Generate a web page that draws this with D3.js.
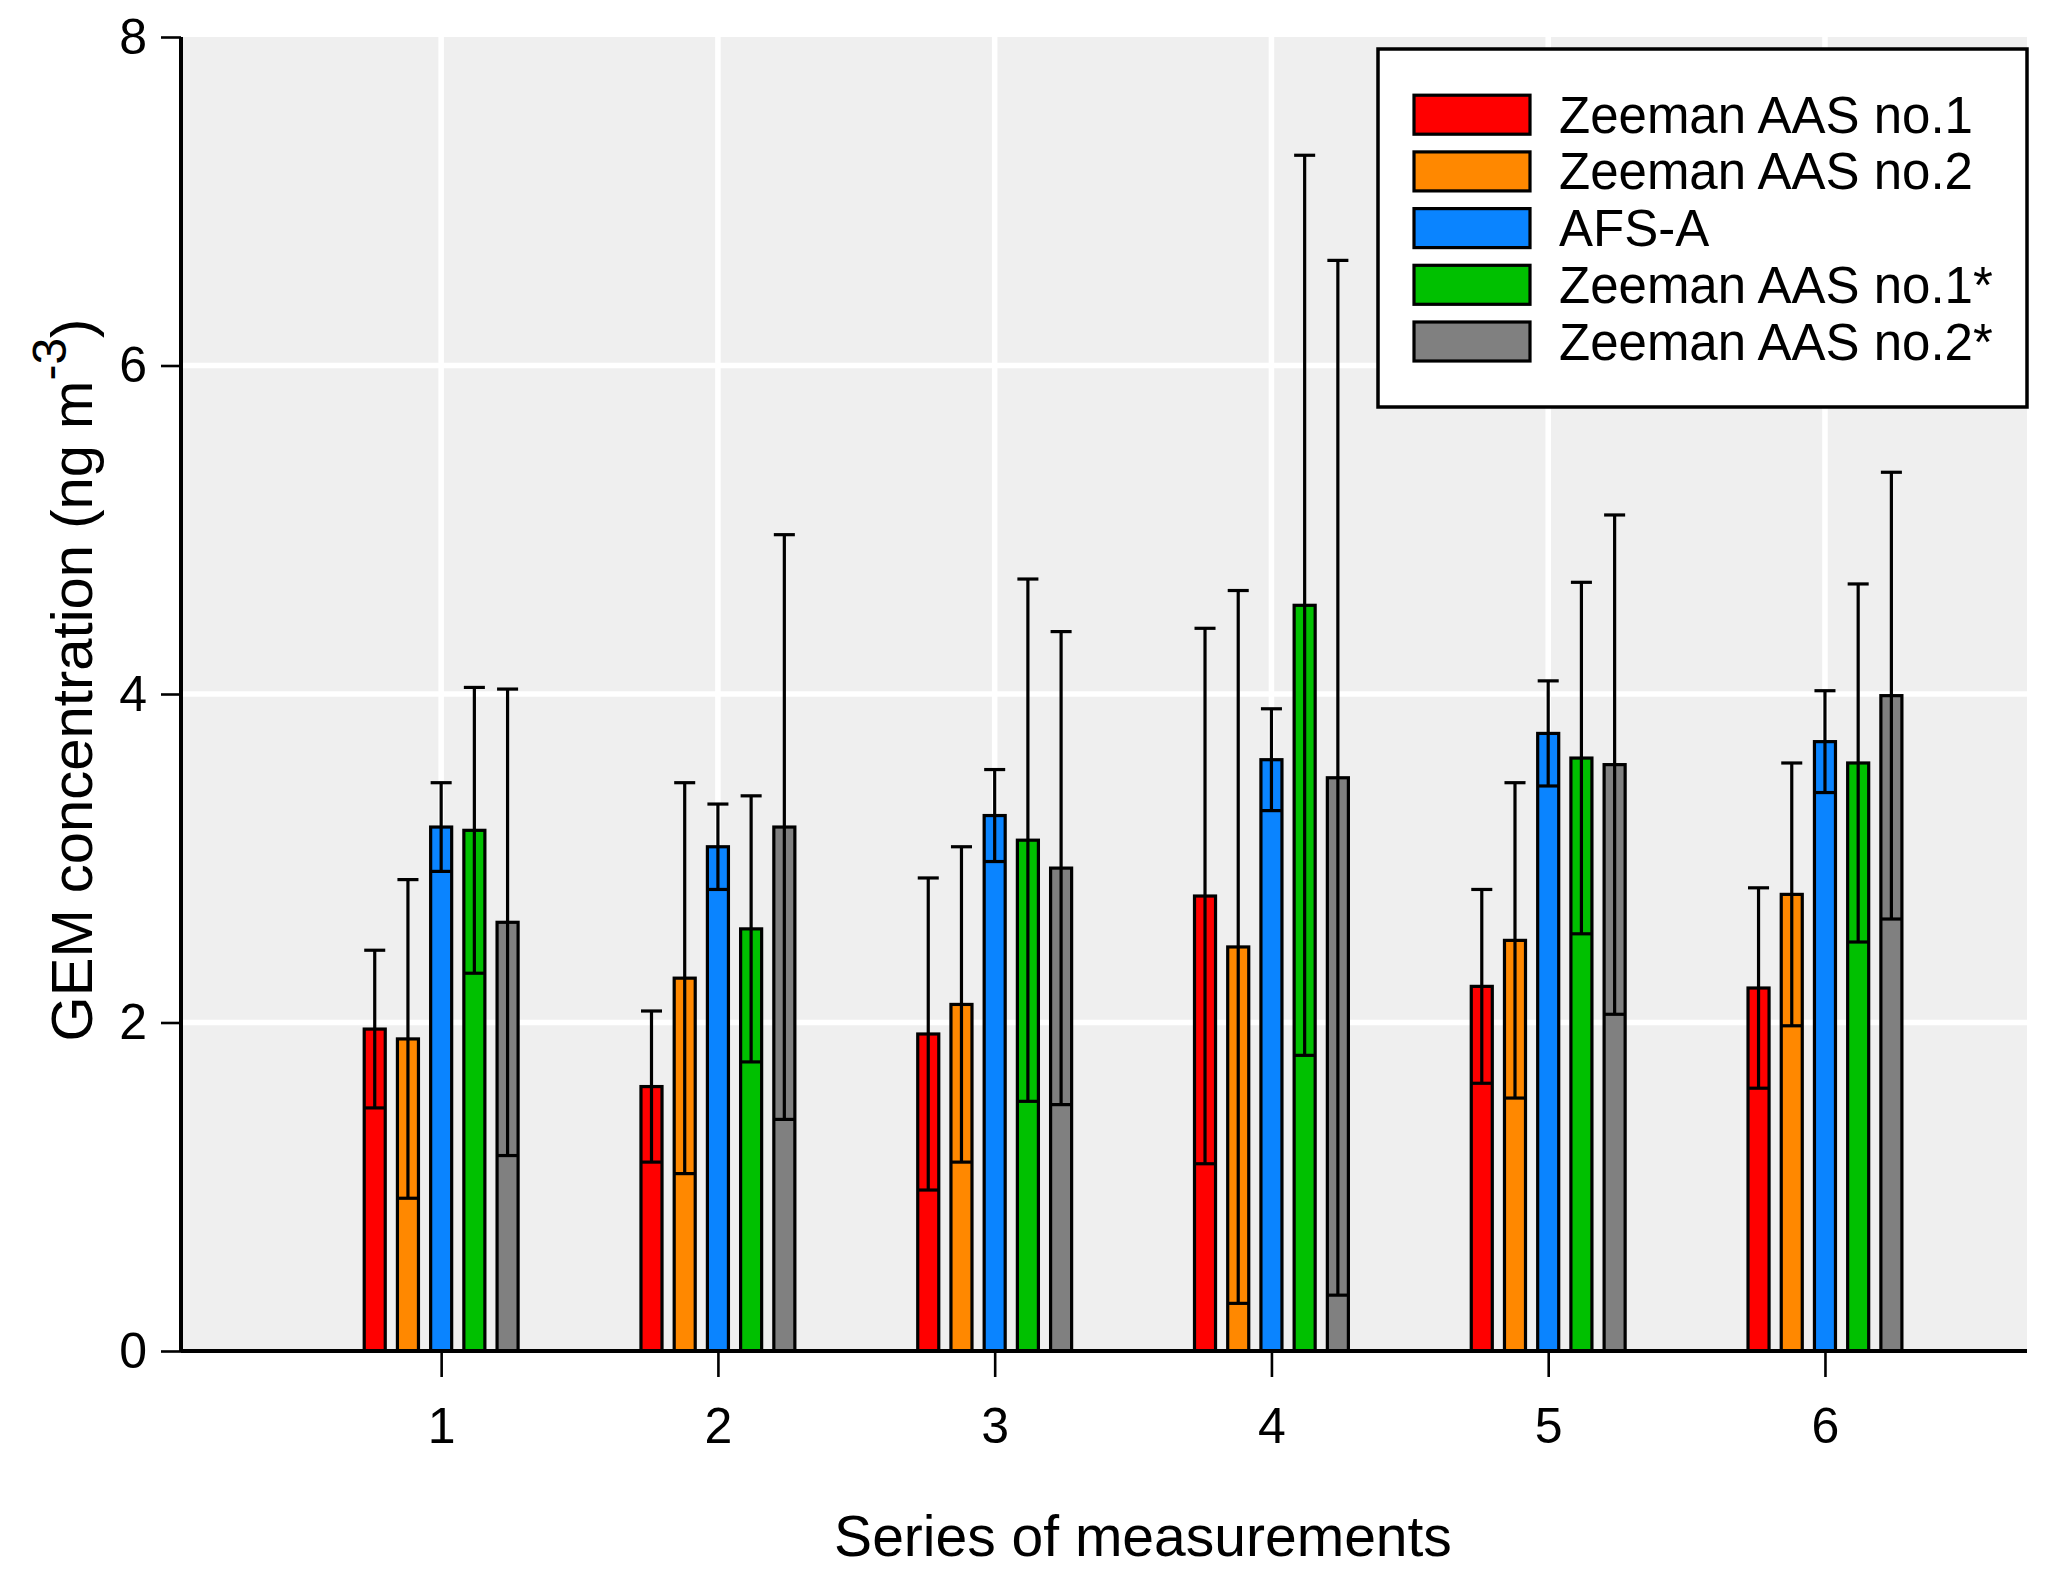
<!DOCTYPE html>
<html>
<head>
<meta charset="utf-8">
<script src="https://cdn.jsdelivr.net/npm/d3@7"></script>
<style>
  body { margin: 0; background: #fff; }
  svg text { font-family: "Liberation Sans", Arial, sans-serif; }
</style>
</head>
<body>
<svg id="chart" width="2067" height="1573"></svg>
<script>
// data
const seriesIds = [1, 2, 3, 4, 5, 6];
const instruments = ["Zeeman AAS no.1", "Zeeman AAS no.2", "AFS-A", "Zeeman AAS no.1*", "Zeeman AAS no.2*"];
const colors = ["#ff0000", "#ff8800", "#0a84ff", "#00c000", "#808080"];
const zeeman1 = [1.96, 1.61, 1.93, 2.77, 2.22, 2.21];
const zeeman1Sd = [0.48, 0.46, 0.95, 1.63, 0.59, 0.61];
const zeeman2 = [1.90, 2.27, 2.11, 2.46, 2.50, 2.78];
const zeeman2Sd = [0.97, 1.19, 0.96, 2.17, 0.96, 0.80];
const afsA = [3.19, 3.07, 3.26, 3.60, 3.76, 3.71];
const afsASd = [0.27, 0.26, 0.28, 0.31, 0.32, 0.31];
const zeeman1s = [3.17, 2.57, 3.11, 4.54, 3.61, 3.58];
const zeeman1sSd = [0.87, 0.81, 1.59, 2.74, 1.07, 1.09];
const zeeman2s = [2.61, 3.19, 2.94, 3.49, 3.57, 3.99];
const zeeman2sSd = [1.42, 1.78, 1.44, 3.15, 1.52, 1.36];
const yTicks = [0, 2, 4, 6, 8];

const means = [zeeman1, zeeman2, afsA, zeeman1s, zeeman2s];
const sds = [zeeman1Sd, zeeman2Sd, afsASd, zeeman1sSd, zeeman2sSd];

const margin = { left: 181, right: 40, top: 37, bottom: 222 };
const W = 2067, H = 1573;
const pw = W - margin.left - margin.right;
const ph = H - margin.top - margin.bottom;

const svg = d3.select("#chart");
const g = svg.append("g").attr("transform", `translate(${margin.left},${margin.top})`);

const x = d3.scaleLinear().domain([0.06, 6.73]).range([0, pw]);
const y = d3.scaleLinear().domain([0, 8]).range([ph, 0]);

const step = 0.12, barW = 0.076;
const sw = 3.2;

// plot background
g.append("rect").attr("width", pw).attr("height", ph).attr("fill", "#efefef");

// grid
g.selectAll(".gy").data(yTicks.filter(d => d > 0 && d < 8)).enter()
  .append("line")
  .attr("x1", 0).attr("x2", pw)
  .attr("y1", d => y(d)).attr("y2", d => y(d))
  .attr("stroke", "#fff").attr("stroke-width", 5.5);
g.selectAll(".gx").data(seriesIds).enter()
  .append("line")
  .attr("x1", d => x(d)).attr("x2", d => x(d))
  .attr("y1", 0).attr("y2", ph)
  .attr("stroke", "#fff").attr("stroke-width", 5.5);

// flatten to one record per bar
let bars = [];
seriesIds.forEach((s, i) => {
  instruments.forEach((name, k) => {
    bars.push({ s: s, k: k, m: means[k][i], sd: sds[k][i] });
  });
});

const bx = d => x(d.s + (d.k - 2) * step);
const halfW = (x(barW) - x(0)) / 2;

const bar = g.selectAll(".bar").data(bars).enter().append("g");

bar.append("rect")
  .attr("x", d => bx(d) - halfW)
  .attr("y", d => y(d.m))
  .attr("width", halfW * 2)
  .attr("height", d => y(0) - y(d.m))
  .attr("fill", d => colors[d.k])
  .attr("stroke", "#000")
  .attr("stroke-width", sw);

// error bars: whisker from lower to upper, caps at both ends
bar.append("line")
  .attr("x1", bx).attr("x2", bx)
  .attr("y1", d => y(d.m - d.sd)).attr("y2", d => y(d.m + d.sd))
  .attr("stroke", "#000").attr("stroke-width", sw);
bar.append("line")
  .attr("x1", d => bx(d) - halfW).attr("x2", d => bx(d) + halfW)
  .attr("y1", d => y(d.m + d.sd)).attr("y2", d => y(d.m + d.sd))
  .attr("stroke", "#000").attr("stroke-width", sw);
bar.append("line")
  .attr("x1", d => bx(d) - halfW).attr("x2", d => bx(d) + halfW)
  .attr("y1", d => y(d.m - d.sd)).attr("y2", d => y(d.m - d.sd))
  .attr("stroke", "#000").attr("stroke-width", sw);

// axes
const yAxis = g.append("g")
  .call(d3.axisLeft(y).tickValues(yTicks).tickSize(20).tickPadding(14).tickFormat(d3.format("d")));
const xAxis = g.append("g").attr("transform", `translate(0,${ph})`)
  .call(d3.axisBottom(x).tickValues(seriesIds).tickSize(26).tickPadding(30).tickFormat(d3.format("d")));
[yAxis, xAxis].forEach(a => {
  a.attr("font-size", 50).attr("font-family", null);
  a.select(".domain").attr("stroke-width", 4);
  a.selectAll(".tick line").attr("stroke-width", 2.6);
  a.selectAll("text").attr("fill", "#000");
});
yAxis.select(".domain").attr("d", `M0,${ph}V0`);
xAxis.select(".domain").attr("d", `M0,0H${pw}`);

// axis titles
svg.append("text")
  .attr("x", 1143).attr("y", 1556)
  .attr("text-anchor", "middle")
  .attr("font-size", 57)
  .text("Series of measurements");

const yt = svg.append("text")
  .attr("transform", "translate(92,680) rotate(-90)")
  .attr("text-anchor", "middle")
  .attr("font-size", 58);
yt.append("tspan").text("GEM concentration (ng m");
yt.append("tspan").attr("dy", -26).attr("font-size", 48).text("-3");
yt.append("tspan").attr("dy", 26).text(")");

// legend
const lg = svg.append("g");
lg.append("rect")
  .attr("x", 1378).attr("y", 49).attr("width", 649).attr("height", 358)
  .attr("fill", "#fff").attr("stroke", "#000").attr("stroke-width", 3.5);
const rows = lg.selectAll(".row").data(instruments).enter().append("g")
  .attr("transform", (d, i) => `translate(1414,${114.7 + i * 56.7})`);
rows.append("rect")
  .attr("x", 0).attr("y", -19.5).attr("width", 116).attr("height", 39)
  .attr("fill", (d, i) => colors[i]).attr("stroke", "#000").attr("stroke-width", sw);
rows.append("text")
  .attr("x", 145).attr("y", 18)
  .attr("font-size", 51)
  .text(d => d);
</script>
</body>
</html>
